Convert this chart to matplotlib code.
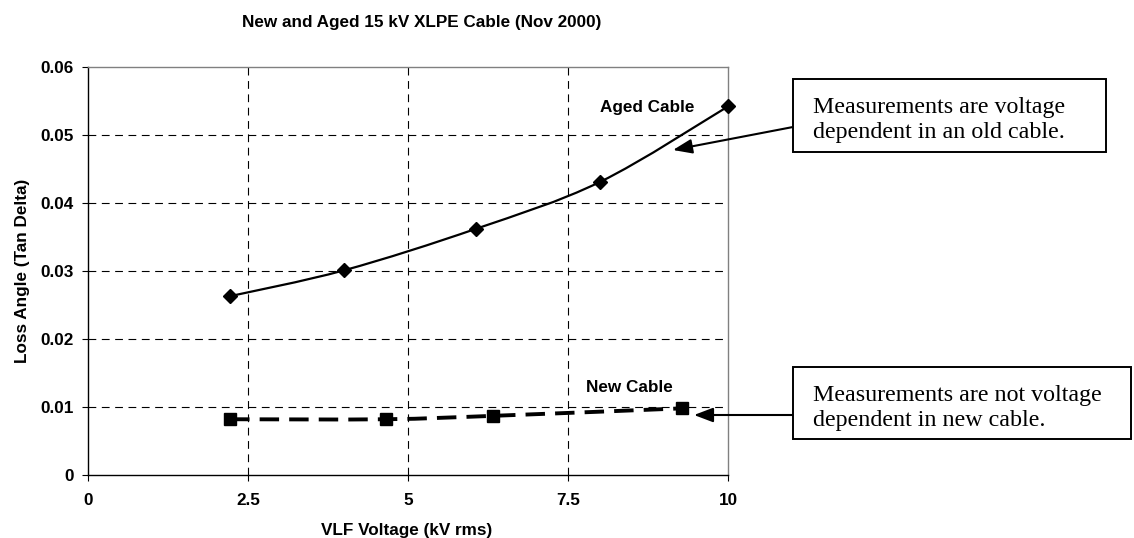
import matplotlib
matplotlib.use("Agg")
import matplotlib.pyplot as plt
from matplotlib.path import Path
from matplotlib.patches import PathPatch, Rectangle

# data
aged_kv = [2.22, 4.0, 6.06, 8.0, 10.0]
aged_tan = [0.0263, 0.0301, 0.0362, 0.0431, 0.0542]
new_kv = [2.22, 4.65, 6.33, 9.28]
new_tan = [0.0082, 0.0082, 0.0087, 0.0098]

x_ticks = [0, 2.5, 5, 7.5, 10]
x_labels = ["0", "2.5", "5", "7.5", "10"]
y_ticks = [0, 0.01, 0.02, 0.03, 0.04, 0.05, 0.06]
y_labels = ["0", "0.01", "0.02", "0.03", "0.04", "0.05", "0.06"]

title = "New and Aged 15 kV XLPE Cable (Nov 2000)"
note_old = ["Measurements are voltage", "dependent in an old cable."]
note_new = ["Measurements are not voltage", "dependent in new cable."]

plt.rcParams["font.family"] = ["Liberation Sans", "DejaVu Sans"]
W, H = 1134, 538
fig = plt.figure(figsize=(W / 100, H / 100), dpi=100)
ax = fig.add_axes([88 / W, 1 - 475 / H, 640 / W, 408 / H])


def px(x, y):
    # image pixels (top-left origin) -> figure fraction
    return x / W, 1 - y / H


def smooth_path(xs, ys):
    # Excel-style smoothed line: bezier segments through the points
    pts = list(zip(xs, ys))
    verts = [pts[0]]
    codes = [Path.MOVETO]
    n = len(pts)
    for i in range(n - 1):
        p0 = pts[i - 1] if i > 0 else pts[i]
        p1 = pts[i]
        p2 = pts[i + 1]
        p3 = pts[i + 2] if i + 2 < n else pts[i + 1]
        c1 = (p1[0] + (p2[0] - p0[0]) / 6, p1[1] + (p2[1] - p0[1]) / 6)
        c2 = (p2[0] - (p3[0] - p1[0]) / 6, p2[1] - (p3[1] - p1[1]) / 6)
        verts += [c1, c2, p2]
        codes += [Path.CURVE4] * 3
    return Path(verts, codes)


ax.add_patch(PathPatch(smooth_path(aged_kv, aged_tan), fill=False,
                       edgecolor="black", lw=1.6, zorder=3, clip_on=False))
ax.plot(aged_kv, aged_tan, linestyle="none", marker="D", ms=6.8,
        color="black", zorder=4, clip_on=False)

ax.add_patch(PathPatch(smooth_path(new_kv, new_tan), fill=False,
                       edgecolor="black", lw=2.8, linestyle=(0, (5, 2.6)),
                       capstyle="butt", zorder=3))
ax.plot(new_kv, new_tan, linestyle="none", marker="s", ms=8.5,
        color="black", zorder=4, clip_on=False)

ax.set_xlim(0, 10)
ax.set_ylim(0, 0.06)
ax.set_xticks(x_ticks)
ax.set_xticklabels(x_labels, fontsize=12.3, fontweight="bold")
ax.set_yticks(y_ticks)
ax.set_yticklabels(y_labels, fontsize=12.3, fontweight="bold")
ax.tick_params(axis="both", direction="out", length=4.3, width=0.8, color="black")
ax.tick_params(axis="x", pad=9)
ax.tick_params(axis="y", pad=6)

ax.grid(True, color="black", lw=0.8, linestyle=(0, (7, 5)))
for t in (ax.xaxis.get_major_ticks()[0], ax.xaxis.get_major_ticks()[-1],
          ax.yaxis.get_major_ticks()[0], ax.yaxis.get_major_ticks()[-1]):
    t.gridline.set_visible(False)

ax.spines["left"].set_color("black")
ax.spines["bottom"].set_color("black")
ax.spines["top"].set_color("#808080")
ax.spines["right"].set_color("#808080")
for s in ax.spines.values():
    s.set_linewidth(1.0)

fig.text(*px(422, 27), title, ha="center", va="baseline",
         fontsize=12.3, fontweight="bold")
fig.text(*px(407, 535.5), "VLF Voltage (kV rms)", ha="center", va="baseline",
         fontsize=12.3, fontweight="bold")
fig.text(*px(23, 271), "Loss Angle (Tan Delta)", ha="center", va="center",
         rotation=90, fontsize=12.3, fontweight="bold")

fig.text(*px(647, 112), "Aged Cable", ha="center", va="baseline",
         fontsize=12.3, fontweight="bold")
fig.text(*px(629, 392), "New Cable", ha="center", va="baseline",
         fontsize=12.3, fontweight="bold")

# callout boxes
for (x0, y0, x1, y1) in [(793, 79, 1106, 152), (793, 367, 1131, 439)]:
    fx, fy = px(x0, y1)
    fig.add_artist(Rectangle((fx, fy), (x1 - x0) / W, (y1 - y0) / H,
                             transform=fig.transFigure, fill=True,
                             facecolor="white", edgecolor="black", lw=1.4))

serif = ["Liberation Serif", "DejaVu Serif"]
for line, yb in zip(note_old, [112.7, 138]):
    fig.text(*px(813, yb), line, ha="left", va="baseline", fontsize=17.3,
             family=serif)
for line, yb in zip(note_new, [400.5, 426]):
    fig.text(*px(813, yb), line, ha="left", va="baseline", fontsize=17.3,
             family=serif)

arrow = dict(arrowstyle="-|>,head_length=0.58,head_width=0.22",
             color="black", lw=1.5, shrinkA=0, shrinkB=0, mutation_scale=20)
ax.annotate("", xy=(673, H - 150), xytext=(793, H - 127),
            xycoords="figure pixels", textcoords="figure pixels",
            arrowprops=arrow, annotation_clip=False)
ax.annotate("", xy=(694, H - 415), xytext=(793, H - 415),
            xycoords="figure pixels", textcoords="figure pixels",
            arrowprops=arrow, annotation_clip=False)

fig.savefig("out.png", dpi=100)
